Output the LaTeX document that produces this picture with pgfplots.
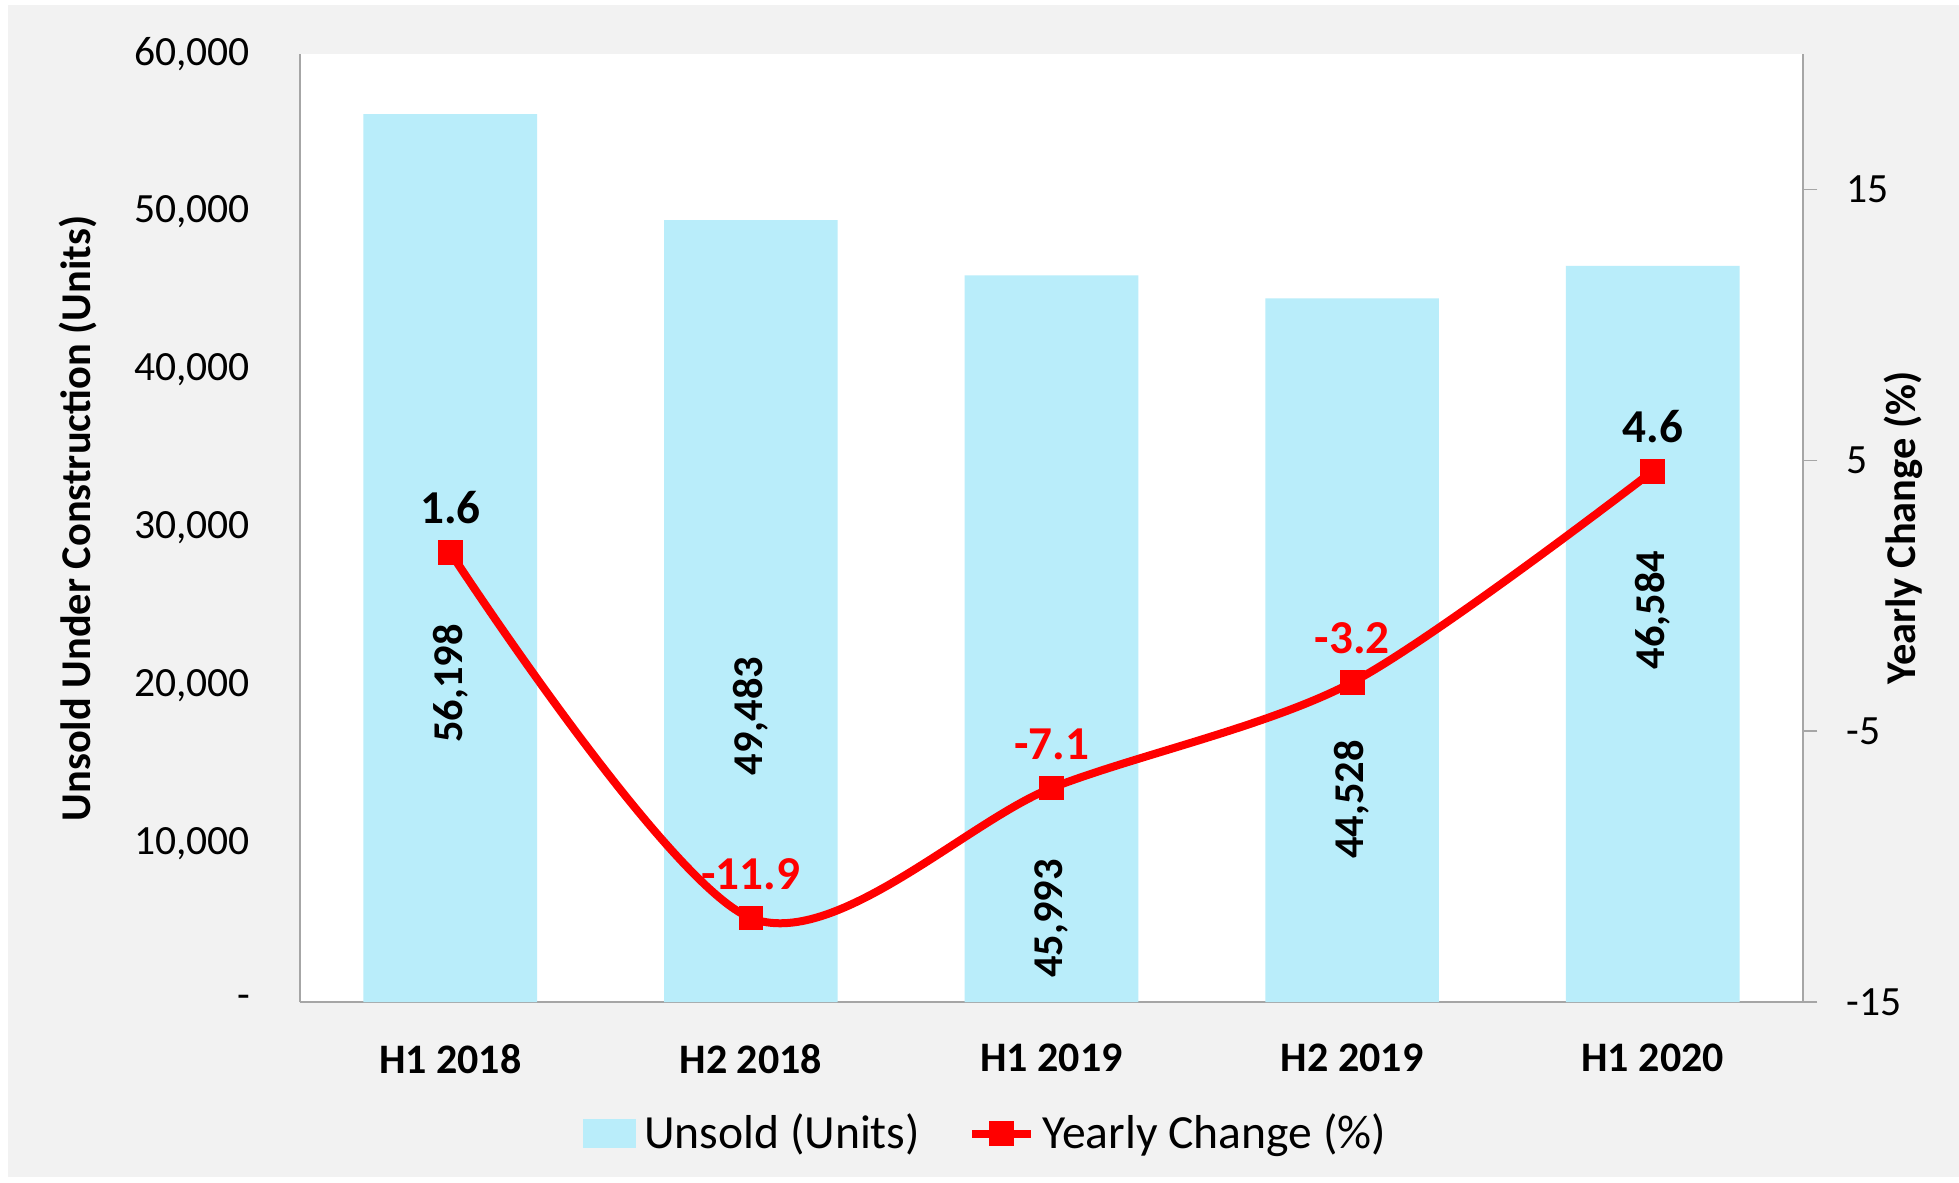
\documentclass[border=0pt]{standalone}
\usepackage{fontspec}
\setmainfont{Carlito}
\usepackage{pgfplots}
\pgfplotsset{compat=1.18}
\definecolor{barcyan}{HTML}{B9EDFA}
\definecolor{bggray}{HTML}{F2F2F2}
\definecolor{axgray}{HTML}{A6A6A6}
\definecolor{linered}{HTML}{FF0000}

\begin{document}
\begin{tikzpicture}
% outer chart area
\fill[white] (-75pt,-45pt) rectangle (414.75pt,250.5pt);
\fill[bggray] (-73pt,-43.75pt) rectangle (414.75pt,249.25pt);

% left axis: unsold units
\begin{axis}[
  scale only axis, width=375.75pt, height=237pt,
  at={(0,0)}, anchor=south west,
  xmin=-0.5, xmax=4.5, ymin=0, ymax=60000,
  scaled y ticks=false,
  axis background/.style={fill=white},
  axis x line*=bottom, axis y line*=left,
  axis line style={axgray, line width=0.4pt, -},
  major tick length=0pt,
  xtick={0,1,2,3,4},
  xticklabels={H1 2018,H2 2018,H1 2019,H2 2019,H1 2020},
  xticklabel style={font=\fontsize{10.5}{12}\selectfont\bfseries, yshift=-7pt},
  ytick={0,10000,20000,30000,40000,50000,60000},
  yticklabels={{-\hspace{4.5pt}},{10,000},{20,000},{30,000},{40,000},{50,000},{60,000}},
  yticklabel style={font=\fontsize{10.4}{12}\selectfont, xshift=-9pt},
  ylabel={Unsold Under Construction (Units)},
  ylabel style={font=\fontsize{10.6}{12}\selectfont\bfseries,
    at={(axis description cs:-0.148,0.51)}, anchor=center},
]
\addplot[ybar, bar width=43.4pt, bar shift=0pt, fill=barcyan, draw=none]
  coordinates {(0,56198) (1,49483) (2,45993) (3,44528) (4,46584)};
% value labels inside the bars
\addplot[draw=none, mark=none, nodes near coords, point meta=explicit symbolic,
  nodes near coords style={rotate=90, anchor=center, inner sep=0pt,
    font=\fontsize{10.6}{12}\selectfont\bfseries, black}]
  coordinates {(0,20158)[{\bfseries 56,198}] (1,18103)[{\bfseries 49,483}]
               (2,5296)[{\bfseries 45,993}] (3,12806)[{\bfseries 44,528}]
               (4,24822)[{\bfseries 46,584}]};
\end{axis}

% right axis: yearly change
\begin{axis}[
  scale only axis, width=375.75pt, height=237pt,
  at={(0,0)}, anchor=south west,
  xmin=-0.5, xmax=4.5, ymin=-15, ymax=20,
  axis x line=none, axis y line*=right,
  axis line style={axgray, line width=0.4pt, -},
  ytick={-15,-5,5,15}, yticklabels={-15,-5,5,15},
  tick align=outside, major tick length=3.6pt,
  ytick style={axgray, line width=0.4pt},
  yticklabel style={font=\fontsize{10.4}{12}\selectfont, xshift=3.8pt},
  ylabel={Yearly Change (\%)},
  ylabel style={font=\fontsize{10.6}{12}\selectfont\bfseries,
    at={(axis description cs:1.067,0.5)}, anchor=center},
  legend style={at={(axis description cs:0.458,-0.139)}, anchor=center,
    draw=none, fill=none, legend columns=2,
    font=\fontsize{11.9}{14}\selectfont,
    /tikz/every even column/.append style={column sep=10pt}},
  legend cell align=left,
]
\addlegendimage{legend image code/.code={\fill[barcyan] (0pt,-3.4pt) rectangle (13pt,3.4pt);}}
\addlegendentry{Unsold (Units)}
\addplot[linered, line width=2pt, smooth, mark=square*, mark size=2.8pt,
  mark options={solid, fill=linered, line width=0.6pt},
  nodes near coords, point meta=explicit symbolic,
  nodes near coords style={anchor=south, yshift=3.5pt,
    font=\fontsize{11.8}{14}\selectfont\bfseries},
  legend image code/.code={\draw[mark repeat=2,mark phase=2]
    plot coordinates {(0pt,0pt) (7.3pt,0pt) (14.6pt,0pt)};}]
  coordinates {(0,1.6)[\textcolor{black}{1.6}] (1,-11.9)[-11.9] (2,-7.1)[-7.1]
               (3,-3.2)[-3.2] (4,4.6)[\textcolor{black}{4.6}]};
\addlegendentry{Yearly Change (\%)}
\end{axis}
\end{tikzpicture}
\end{document}
